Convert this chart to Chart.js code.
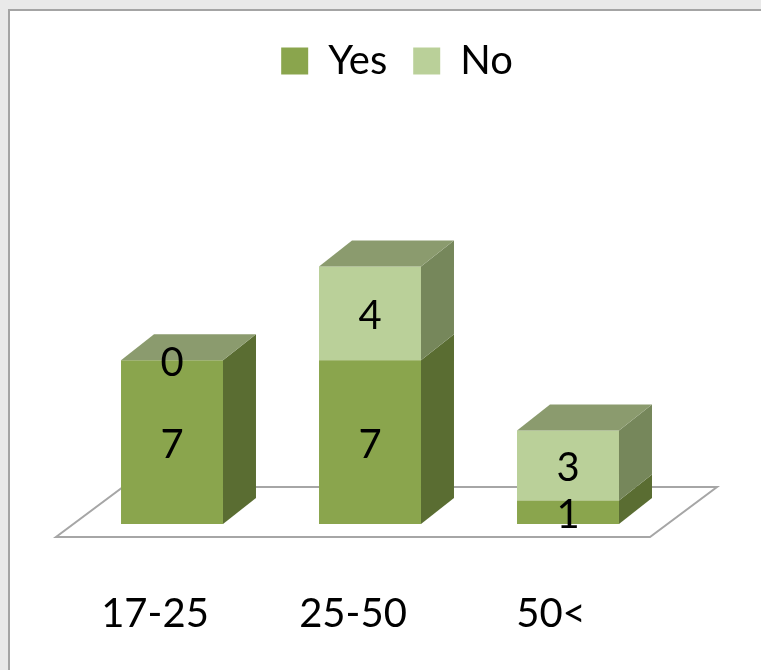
<!DOCTYPE html>
<html lang="en">
  <head>
    <meta charset="UTF-8" />
    <title>Yes / No by age group</title>
    <script src="https://cdn.jsdelivr.net/npm/chart.js"></script>
    <style>
      html, body { margin: 0; padding: 0; }
      body { width: 761px; height: 670px; background: #e9e9e9; position: relative; overflow: hidden; }
      /* white slide panel behind the chart */
      #panel { position: absolute; left: 8px; top: 9px; width: 800px; height: 700px; background: #fff;
               border-left: 2px solid #a4a4a4; border-top: 2px solid #a4a4a4; }
      /* a bit taller than the window so the axis labels land where they should */
      #wrap { position: absolute; left: 0; top: 0; width: 761px; height: 700px; }
    </style>
  </head>
  <body>
    <div id="panel"></div>
    <div id="wrap"><canvas id="ageChart"></canvas></div>

    <script>
      // chart data
      const ageGroups = ['17-25', '25-50', '50<']
      const yesValues = [7, 7, 1]
      const noValues = [0, 4, 3]
      const yAxisMax = 18.5

      // colours: front, side faces and the shared top face
      const frontColors = ['#8aa54d', '#bad099']
      const sideColors = ['#5a6d32', '#76875b']
      const topColor = '#8b9b6e'

      // fake 3d depth of each box
      const depthX = 33
      const depthY = -26

      Chart.defaults.font.family = 'Lato, sans-serif'

      const boxFaces = {
        id: 'boxFaces',
        afterLayout(chart) {
          // move the legend a little to the right, like the original
          chart.legend.left += 27
          chart.legend.right += 27
        },
        beforeDatasetsDraw(chart) {
          // the floor under the bars
          const { ctx, chartArea } = chart
          const zero = chart.scales.y.getPixelForValue(0)
          const l = chartArea.left
          const r = chartArea.right
          ctx.save()
          ctx.beginPath()
          ctx.moveTo(l - 17, zero + 13)
          ctx.lineTo(r - 17, zero + 13)
          ctx.lineTo(r + 50, zero - 37)
          ctx.lineTo(l + 50, zero - 37)
          ctx.closePath()
          ctx.fillStyle = '#fff'
          ctx.fill()
          ctx.strokeStyle = '#a6a6a6'
          ctx.lineWidth = 2
          ctx.stroke()
          ctx.restore()
        },
        afterDatasetsDraw(chart) {
          const { ctx } = chart
          const metas = chart.getSortedVisibleDatasetMetas()
          ctx.save()

          ageGroups.forEach((_, i) => {
            let topY = Infinity
            let left = 0
            let right = 0
            metas.forEach(meta => {
              const bar = meta.data[i]
              left = bar.x - bar.width / 2
              right = bar.x + bar.width / 2
              // right side face
              ctx.fillStyle = sideColors[meta.index]
              ctx.beginPath()
              ctx.moveTo(right, bar.base)
              ctx.lineTo(right, bar.y)
              ctx.lineTo(right + depthX, bar.y + depthY)
              ctx.lineTo(right + depthX, bar.base + depthY)
              ctx.closePath()
              ctx.fill()
              topY = Math.min(topY, bar.y, bar.base)
            })
            // top face of the stack
            ctx.fillStyle = topColor
            ctx.beginPath()
            ctx.moveTo(left, topY)
            ctx.lineTo(right, topY)
            ctx.lineTo(right + depthX, topY + depthY)
            ctx.lineTo(left + depthX, topY + depthY)
            ctx.closePath()
            ctx.fill()
          })

          // value labels in the middle of each segment
          ctx.font = '40px Lato, sans-serif'
          ctx.textAlign = 'center'
          ctx.textBaseline = 'middle'
          ctx.fillStyle = '#000'
          metas.forEach(meta => {
            meta.data.forEach((bar, i) => {
              const value = chart.data.datasets[meta.index].data[i]
              ctx.fillText(String(value), bar.x, (bar.y + bar.base) / 2 + 3)
            })
          })
          ctx.restore()
        }
      }

      const ctx = document.getElementById('ageChart').getContext('2d')
      new Chart(ctx, {
        type: 'bar',
        data: {
          labels: ageGroups,
          datasets: [
            { label: 'Yes', data: yesValues, backgroundColor: frontColors[0] },
            { label: 'No', data: noValues, backgroundColor: frontColors[1] }
          ]
        },
        options: {
          responsive: true,
          maintainAspectRatio: false,
          animation: false,
          devicePixelRatio: 1,
          categoryPercentage: 1,
          barPercentage: 0.515,
          layout: { padding: { left: 73, right: 94, top: 15, bottom: 4 } },
          plugins: {
            tooltip: { enabled: false },
            legend: {
              position: 'top',
              labels: {
                color: '#000',
                boxWidth: 27,
                boxHeight: 27,
                padding: 26,
                font: { size: 40 }
              }
            }
          },
          scales: {
            x: {
              stacked: true,
              grid: { display: false },
              border: { display: false },
              ticks: {
                color: '#000',
                font: { size: 40 },
                padding: 58,
                labelOffset: -17,
                maxRotation: 0,
                autoSkip: false
              }
            },
            y: {
              stacked: true,
              display: false,
              min: 0,
              max: yAxisMax
            }
          }
        },
        plugins: [boxFaces]
      })
    </script>
  </body>
</html>
